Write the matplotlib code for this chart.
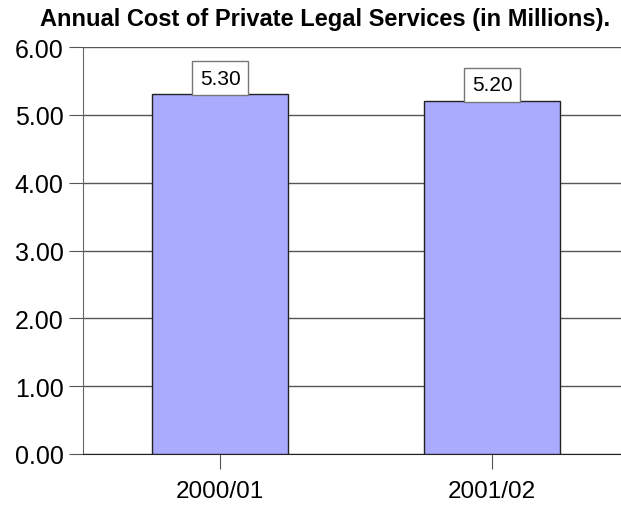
import matplotlib.pyplot as plt

# chart data
years = ['2000/01', '2001/02']
cost = [5.30, 5.20]
y_ticks = [0, 1, 2, 3, 4, 5, 6]

plt.rcParams['font.family'] = ['Liberation Sans', 'DejaVu Sans']

fig = plt.figure(figsize=(6.21, 5.06), dpi=100)
ax = fig.add_axes([0.1337, 0.1008, 0.8663, 0.8043])

x = range(len(years))
ax.bar(x, cost, width=0.5, color='#aaaaff', edgecolor='#222222', linewidth=1, zorder=3)

fs = 15
pad = 0.36
for xi, v in zip(x, cost):
    ax.annotate('%.2f' % v, (xi, v), xytext=(0, fs * pad - 0.5), textcoords='offset points',
                ha='center', va='bottom', fontsize=fs, zorder=4,
                bbox=dict(boxstyle='square,pad=%s' % pad, fc='white', ec='#777777', lw=1))

ax.set_ylim(0, 6)
ax.set_xlim(-0.504, 1.474)
ax.set_yticks(y_ticks)
ax.set_yticklabels(['%.2f' % t for t in y_ticks], fontsize=18)
ax.set_xticks(list(x))
ax.set_xticklabels(years, fontsize=17.5)
ax.tick_params(axis='y', length=10, color='#555555', pad=4)
ax.tick_params(axis='x', length=11, color='#555555', pad=8)

ax.yaxis.grid(True, color='#555555', linewidth=1, zorder=0)
ax.spines['top'].set_visible(False)
ax.spines['right'].set_visible(False)
ax.spines['left'].set_color('#666666')
ax.spines['bottom'].set_color('#222222')

fig.text(0.524, 0.962, 'Annual Cost of Private Legal Services (in Millions).',
         ha='center', va='center', fontsize=17, fontweight='bold')

fig.savefig('out.png', dpi=100)
